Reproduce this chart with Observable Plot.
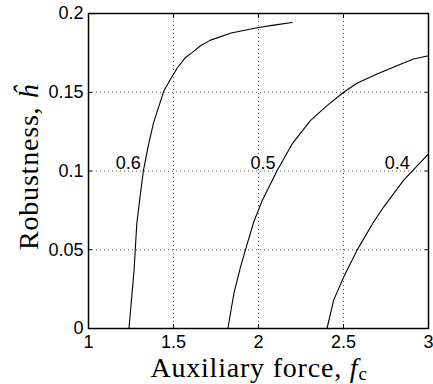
<!DOCTYPE html>
<html><head><meta charset="utf-8">
<script src="https://cdn.jsdelivr.net/npm/d3@7"></script>
<script src="https://cdn.jsdelivr.net/npm/@observablehq/plot@0.6"></script>
<style>body{margin:0;background:#fff}</style>
</head><body><div id="chart"></div>
<script>
const xTicks = [1, 1.5, 2, 2.5, 3];
const xTickLabels = ["1", "1.5", "2", "2.5", "3"];
const yTicks = [0, 0.05, 0.1, 0.15, 0.2];
const yTickLabels = ["0", "0.05", "0.1", "0.15", "0.2"];
const curveNames = ["0.6", "0.5", "0.4"];

const f06 = [1.238, 1.268, 1.284, 1.303, 1.323, 1.350, 1.381, 1.409, 1.444, 1.483, 1.522, 1.571, 1.611, 1.659, 1.718, 1.839, 2.0, 2.1, 2.198];
const h06 = [0, 0.0369, 0.0665, 0.0834, 0.1003, 0.1151, 0.1299, 0.1394, 0.151, 0.1584, 0.1654, 0.1721, 0.1753, 0.1795, 0.1831, 0.1876, 0.1911, 0.1928, 0.1943];

const f05 = [1.820, 1.855, 1.894, 1.934, 1.972, 2.022, 2.110, 2.198, 2.305, 2.403, 2.501, 2.579, 2.697, 2.814, 2.912, 3.0];
const h05 = [0, 0.0222, 0.039, 0.0539, 0.0676, 0.0813, 0.1003, 0.1172, 0.132, 0.1415, 0.15, 0.1557, 0.1616, 0.1669, 0.1711, 0.1732];

const f04 = [2.403, 2.442, 2.501, 2.579, 2.677, 2.736, 2.853, 3.0];
const h04 = [0, 0.018, 0.0327, 0.0496, 0.0676, 0.0771, 0.094, 0.1109];

const labelF = [1.234, 2.026, 2.816];
const labelH = [0.1048, 0.1048, 0.1048];

const series = [[f06, h06], [f05, h05], [f04, h04]];
const rows = [];
series.forEach(([fs, hs], k) => fs.forEach((f, i) => rows.push({c: curveNames[k], f, h: hs[i]})));

const fmtX = d => xTickLabels[xTicks.indexOf(d)];
const fmtY = d => yTickLabels[yTicks.indexOf(d)];
const gridStyle = {stroke: "#000", strokeOpacity: 0.65, strokeDasharray: "1,3", strokeWidth: 1};

const plot = Plot.plot({
  width: 433, height: 384,
  marginLeft: 88, marginRight: 5, marginTop: 13, marginBottom: 56,
  style: {fontFamily: "'Liberation Sans', Arial, sans-serif", fontSize: "18px", background: "white", color: "black"},
  x: {domain: [1, 3]},
  y: {domain: [0, 0.2]},
  marks: [
    Plot.gridX(xTicks.slice(1, -1), gridStyle),
    Plot.gridY(yTicks.slice(1, -1), gridStyle),
    Plot.axisX(xTicks, {anchor: "bottom", tickSize: 0, tickPadding: 7, tickFormat: fmtX, label: null, fontSize: 18}),
    Plot.axisY(yTicks, {anchor: "left", tickSize: 0, tickPadding: 5, tickFormat: fmtY, label: null, fontSize: 18}),
    Plot.axisX(xTicks, {anchor: "bottom", tickSize: -4, text: null, label: null}),
    Plot.axisX(xTicks, {anchor: "top", tickSize: -4, text: null, label: null}),
    Plot.axisY(yTicks, {anchor: "left", tickSize: -4, text: null, label: null}),
    Plot.axisY(yTicks, {anchor: "right", tickSize: -4, text: null, label: null}),
    Plot.line(rows, {x: "f", y: "h", z: "c", stroke: "black", strokeWidth: 1.1}),
    Plot.text(curveNames, {x: (d, i) => labelF[i], y: (d, i) => labelH[i], text: d => d, fontSize: 18, fill: "black"}),
    Plot.frame({stroke: "black", strokeWidth: 1.5})
  ]
});

const svg = d3.select(plot);
const xt = svg.append("text")
  .attr("x", 259).attr("y", 377)
  .attr("text-anchor", "middle")
  .attr("font-family", "'Liberation Serif', 'Times New Roman', serif")
  .attr("font-size", 28).attr("letter-spacing", 0.8).attr("fill", "black");
xt.append("tspan").text("Auxiliary force, ");
xt.append("tspan").attr("font-style", "italic").text("f");
xt.append("tspan").attr("font-size", 19).attr("dy", 3).text("c");

const yt = svg.append("text")
  .attr("transform", "translate(38,167) rotate(-90)")
  .attr("text-anchor", "middle")
  .attr("font-family", "'Liberation Serif', 'Times New Roman', serif")
  .attr("font-size", 28).attr("letter-spacing", 0.8).attr("fill", "black");
yt.append("tspan").text("Robustness, ");
yt.append("tspan").attr("font-style", "italic").text("\u0125");

document.getElementById("chart").appendChild(plot);
</script>
</body></html>
